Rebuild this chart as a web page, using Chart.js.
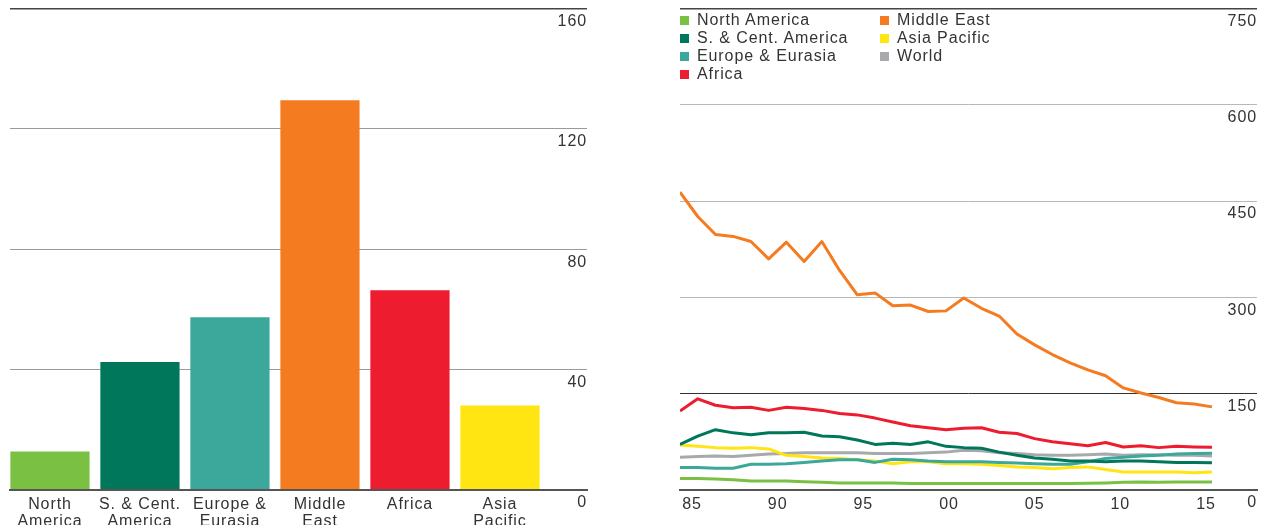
<!DOCTYPE html>
<html>
<head>
<meta charset="utf-8">
<script src="https://cdn.jsdelivr.net/npm/chart.js@4"></script>
<style>
  body { margin: 0; width: 1265px; height: 525px; background: #fff; overflow: hidden; position: relative; }
  #bars { position: absolute; left: 0; top: 0; }
  #history { position: absolute; left: 640px; top: 0; }
  #legend {
    position: absolute; left: 680px; top: 11px;
    display: grid; grid-template-columns: 200px auto; grid-template-rows: repeat(4, 18px);
    grid-auto-flow: column;
    font: 16px "Liberation Sans", Arial, sans-serif; letter-spacing: 0.9px; color: #333;
  }
  #legend div { display: flex; align-items: center; white-space: nowrap; }
  #legend span { display: inline-block; width: 9px; height: 9px; margin-right: 8px; }
</style>
</head>
<body>
<canvas id="bars" width="600" height="525"></canvas>
<canvas id="history" width="625" height="525"></canvas>
<div id="legend"></div>
<script>
// R/P ratio by region, 2015 (years)
var regionLabels = [['North', 'America'], ['S. & Cent.', 'America'], ['Europe &', 'Eurasia'], ['Middle', 'East'], ['Africa'], ['Asia', 'Pacific']];
var ratio2015 = [12.8, 42.5, 57.4, 129.5, 66.4, 28.1];
var regionColours = ['#7ac143', '#00775a', '#3ba89b', '#f47b20', '#ed1c2e', '#ffe512'];

// history by year
var years = [1985, 1986, 1987, 1988, 1989, 1990, 1991, 1992, 1993, 1994, 1995, 1996, 1997, 1998, 1999, 2000,
             2001, 2002, 2003, 2004, 2005, 2006, 2007, 2008, 2009, 2010, 2011, 2012, 2013, 2014, 2015];
var northAmerica = [18, 18, 17, 16, 14, 14, 14, 13, 12, 11, 11, 11, 11, 10, 10, 10, 10, 10, 10, 10, 10, 10, 10.3, 10.5, 11, 12, 12.4, 12, 12.4, 12.4, 12.6];
var southCentAmerica = [71, 84, 94, 89, 86, 89, 89, 90, 84, 83, 78, 71, 73, 71, 75, 68, 66, 65, 59, 54, 50, 48, 45, 45, 44, 45, 45, 44, 43, 43, 42.5];
var europeEurasia = [35, 35, 34, 34, 40, 40, 41, 43, 45, 47, 47, 43, 48, 47, 45, 44, 44, 44, 43, 42, 41, 40, 40, 44, 49, 51, 53, 54, 56, 57, 57.4];
var africa = [123, 142, 132, 128, 129, 124, 129, 127, 124, 119, 117, 112, 106, 100, 97, 94, 96, 97, 90, 88, 80, 75, 72, 69, 74, 67, 69, 66, 68, 67, 66.4];
var middleEast = [464, 426, 398, 395, 387, 360, 386, 356, 387, 342, 304, 307, 287, 288, 278, 279, 299, 283, 271, 243, 226, 211, 198, 187, 178, 159, 151, 144, 136, 134, 129.5];
var asiaPacific = [70, 68, 66, 65, 66, 64, 54, 52, 50, 49, 47, 45, 41, 44, 44, 41, 41, 40, 38, 36, 35, 33, 35, 36, 32, 28, 28, 28, 28, 27, 28.1];
var world = [51, 52, 53, 52, 54, 56, 57, 58, 58, 58, 58, 57, 57, 57, 58, 59, 62, 61, 58, 57, 55, 54, 54, 55, 56, 54, 55, 55, 54, 54, 52.8];

var barTicks = [0, 40, 80, 120, 160];
var lineTicks = [0, 150, 300, 450, 600, 750];

var font = { family: '"Liberation Sans", Arial, sans-serif', size: 16, lineHeight: 1.06 };
var textColour = '#333';

// a little tracking on all canvas text
var tracking = {
  id: 'tracking',
  beforeLayout: function (chart) { chart.ctx.letterSpacing = '0.9px'; },
  beforeDraw: function (chart) { chart.ctx.letterSpacing = '0.9px'; }
};

Chart.defaults.animation = false;
Chart.defaults.plugins.legend.display = false;
Chart.defaults.plugins.tooltip.enabled = false;

function xy(values, xs) {
  return values.map(function (v, i) { return { x: xs[i], y: v }; });
}

new Chart(document.getElementById('bars'), {
  type: 'bar',
  data: {
    datasets: [{
      data: xy(ratio2015, [0, 1, 2, 3, 4, 5]),
      backgroundColor: regionColours,
      barPercentage: 0.88,
      categoryPercentage: 1
    }]
  },
  options: {
    responsive: false,
    layout: { padding: { left: 10, right: 13, top: 6, bottom: 0 } },
    scales: {
      x: {
        type: 'linear', min: -0.444, max: 5.967, offset: false,
        grid: { display: false },
        border: { display: true, color: '#555', width: 2, z: 1 },
        ticks: {
          stepSize: 1, includeBounds: false, autoSkip: false, maxRotation: 0, padding: -2,
          color: textColour, font: font,
          callback: function (v) { return regionLabels[v] || ''; }
        },
        afterFit: function (s) { s.height = 35; }
      },
      y: {
        position: 'right', min: 0, max: 160,
        afterBuildTicks: function (s) { s.ticks = barTicks.map(function (v) { return { value: v }; }); },
        ticks: { mirror: true, padding: 0, labelOffset: 13, color: textColour, font: font },
        grid: {
          drawTicks: false,
          color: function (c) { return c.tick.value === 160 ? '#444' : c.tick.value === 0 ? 'rgba(0,0,0,0)' : '#9a9a9a'; },
          lineWidth: function (c) { return c.tick.value === 160 ? 1.5 : 1; }
        },
        border: { display: false }
      }
    }
  },
  plugins: [tracking]
});

var series = [
  { label: 'North America', data: northAmerica, colour: '#7ac143' },
  { label: 'S. & Cent. America', data: southCentAmerica, colour: '#00775a' },
  { label: 'Europe & Eurasia', data: europeEurasia, colour: '#3ba89b' },
  { label: 'Africa', data: africa, colour: '#ed1c2e' },
  { label: 'Middle East', data: middleEast, colour: '#f47b20' },
  { label: 'Asia Pacific', data: asiaPacific, colour: '#ffe512' },
  { label: 'World', data: world, colour: '#a7a9ac' }
];

var lineChart = new Chart(document.getElementById('history'), {
  type: 'line',
  data: {
    datasets: series.map(function (s) {
      return {
        label: s.label, data: xy(s.data, years), xAxisID: 'x',
        borderColor: s.colour, backgroundColor: s.colour,
        borderWidth: 3, pointRadius: 0, tension: 0, borderJoinStyle: 'round'
      };
    })
  },
  options: {
    responsive: false,
    layout: { padding: { left: 40, right: 8, top: 6, bottom: 0 } },
    scales: {
      x: {
        type: 'linear', min: 1985, max: 2017.54,
        grid: { display: false, drawTicks: false },
        ticks: { display: false },
        border: { display: true, color: '#555', width: 2, z: 1 },
        afterFit: function (s) { s.height = 0; }
      },
      xt: {
        type: 'linear', position: 'bottom', min: 1984.3, max: 2017.98,
        grid: { display: false, drawTicks: false },
        border: { display: false },
        ticks: {
          stepSize: 5, includeBounds: false, autoSkip: false, maxRotation: 0, padding: 6,
          color: textColour, font: font,
          callback: function (v) { return String(v % 100).padStart(2, '0'); }
        },
        afterFit: function (s) { s.height = 35; }
      },
      y: {
        position: 'right', min: 0, max: 750,
        afterBuildTicks: function (s) { s.ticks = lineTicks.map(function (v) { return { value: v }; }); },
        ticks: { mirror: true, padding: 0, labelOffset: 13, color: textColour, font: font },
        grid: {
          drawTicks: false,
          color: function (c) {
            var v = c.tick.value;
            if (v === 750) return '#444';
            if (v === 150) return '#333';
            if (v === 0) return 'rgba(0,0,0,0)';
            return '#b8b8b8';
          },
          lineWidth: function (c) { return c.tick.value === 750 ? 1.5 : 1; }
        },
        border: { display: false }
      }
    }
  },
  plugins: [tracking]
});

// legend in two columns over the empty top of the plot
var legend = document.getElementById('legend');
lineChart.data.datasets.forEach(function (ds) {
  var item = document.createElement('div');
  var box = document.createElement('span');
  box.style.background = ds.borderColor;
  item.appendChild(box);
  item.appendChild(document.createTextNode(ds.label));
  legend.appendChild(item);
});
</script>
</body>
</html>
